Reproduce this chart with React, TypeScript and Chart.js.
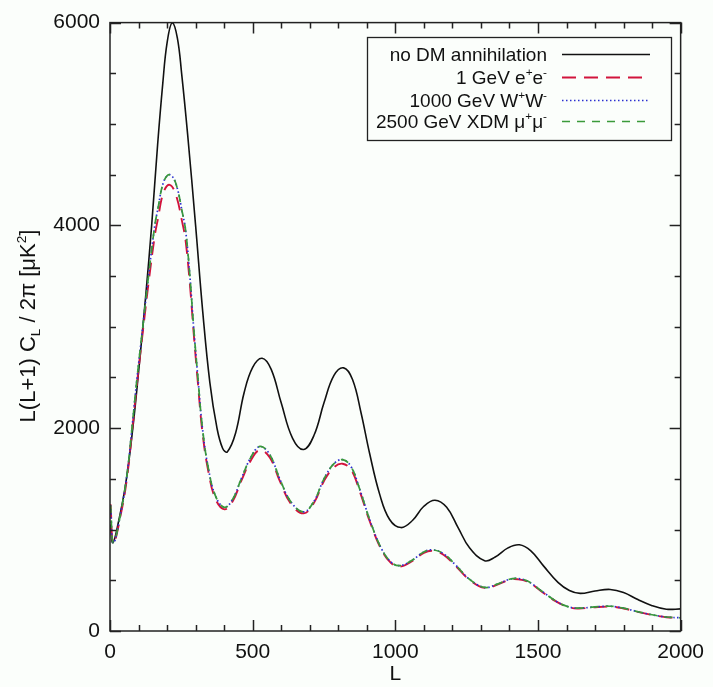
import React, { useEffect, useRef } from "react";
import { Chart, registerables } from "chart.js";

Chart.register(...registerables);

// ---- data ----
const L_NODM = [2, 10, 30, 55, 80, 100, 125, 146, 167, 185, 200, 218, 236, 251, 272, 300, 325, 350, 375, 395, 411, 440, 470, 500, 533, 565, 600, 640, 679, 715, 750, 785, 819, 850, 880, 910, 945, 980, 1020, 1060, 1100, 1139, 1180, 1220, 1260, 1313, 1350, 1395, 1435, 1475, 1520, 1570, 1610, 1648, 1700, 1753, 1800, 1850, 1900, 1950, 2000];
const V_NODM = [1050, 870, 1080, 1450, 2000, 2550, 3300, 4000, 4800, 5400, 5800, 6000, 5850, 5500, 4900, 4000, 3150, 2450, 2000, 1800, 1766, 1950, 2350, 2600, 2690, 2580, 2250, 1900, 1790, 1930, 2250, 2520, 2595, 2480, 2150, 1750, 1350, 1100, 1020, 1090, 1230, 1290, 1220, 1020, 820, 693, 730, 820, 850, 790, 640, 480, 400, 371, 395, 410, 380, 310, 250, 215, 218];

const L_DM = [2, 12, 40, 60, 77, 95, 115, 135, 157, 167, 188, 209, 230, 254, 265, 280, 293, 308, 324, 345, 370, 401, 430, 460, 495, 526, 560, 595, 635, 679, 715, 750, 785, 815, 845, 875, 910, 950, 985, 1017, 1060, 1100, 1132, 1170, 1215, 1260, 1313, 1360, 1400, 1429, 1465, 1510, 1560, 1600, 1638, 1690, 1753, 1800, 1850, 1900, 1950, 2000];
const V_EE = [1250, 870, 1180, 1520, 1960, 2450, 2950, 3430, 3900, 4050, 4330, 4400, 4310, 4020, 3850, 3420, 2950, 2450, 1960, 1570, 1300, 1200, 1280, 1480, 1690, 1785, 1710, 1480, 1250, 1160, 1265, 1480, 1615, 1650, 1590, 1380, 1085, 810, 670, 635, 690, 770, 790, 750, 630, 505, 425, 460, 505, 510, 485, 395, 297, 243, 222, 232, 240, 222, 188, 158, 136, 128];
const V_WW = [1240, 870, 1200, 1550, 2000, 2500, 3000, 3500, 4000, 4150, 4430, 4500, 4420, 4120, 3950, 3500, 3000, 2500, 2000, 1600, 1330, 1220, 1300, 1500, 1720, 1820, 1740, 1500, 1270, 1175, 1280, 1500, 1650, 1690, 1620, 1400, 1100, 820, 680, 645, 700, 780, 800, 760, 640, 510, 430, 465, 510, 517, 490, 400, 300, 245, 225, 235, 244, 225, 190, 160, 138, 130];
const V_MUMU = [1240, 870, 1200, 1550, 2000, 2500, 3000, 3500, 4000, 4150, 4430, 4500, 4420, 4120, 3950, 3500, 3000, 2500, 2000, 1600, 1330, 1220, 1300, 1500, 1720, 1820, 1740, 1500, 1270, 1175, 1280, 1500, 1650, 1690, 1620, 1400, 1100, 820, 680, 645, 700, 780, 800, 760, 640, 510, 430, 465, 510, 517, 490, 400, 300, 245, 225, 235, 244, 225, 190, 160, 138, 130];

const X_MIN = 0;
const X_MAX = 2000;
const X_MAJOR = 500;
const X_MINOR = 100;
const Y_MIN = 0;
const Y_MAX = 6000;
const Y_MAJOR = 2000;
const Y_MINOR = 500;

type Seg = { t: string; s?: "sup" | "sub" };

const LEGEND_ITEMS: { segs: Seg[]; color: string; dash: number[]; width: number }[] = [
  { segs: [{ t: "no DM annihilation" }], color: "#111111", dash: [], width: 1.6 },
  { segs: [{ t: "1 GeV e" }, { t: "+", s: "sup" }, { t: "e" }, { t: "-", s: "sup" }], color: "#d2143c", dash: [14, 8], width: 1.8 },
  { segs: [{ t: "1000 GeV W" }, { t: "+", s: "sup" }, { t: "W" }, { t: "-", s: "sup" }], color: "#2b2fd0", dash: [1.5, 2.5], width: 1.6 },
  { segs: [{ t: "2500 GeV XDM \u03bc" }, { t: "+", s: "sup" }, { t: "\u03bc" }, { t: "-", s: "sup" }], color: "#3a9a3a", dash: [8, 7], width: 1.6 },
];

const FONT_FAMILY = "'Liberation Sans', Arial, Helvetica, sans-serif";

function richWidth(ctx: CanvasRenderingContext2D, segs: Seg[], size: number) {
  let w = 0;
  for (const sg of segs) {
    ctx.font = `${sg.s ? size * 0.62 : size}px ${FONT_FAMILY}`;
    w += ctx.measureText(sg.t).width;
  }
  return w;
}

function drawRich(ctx: CanvasRenderingContext2D, segs: Seg[], x: number, y: number, size: number) {
  let cx = x;
  ctx.textAlign = "left";
  ctx.textBaseline = "alphabetic";
  for (const sg of segs) {
    const fs = sg.s ? size * 0.62 : size;
    ctx.font = `${fs}px ${FONT_FAMILY}`;
    let dy = 0;
    if (sg.s === "sup") dy = -size * 0.42;
    if (sg.s === "sub") dy = size * 0.22;
    ctx.fillText(sg.t, cx, y + dy);
    cx += ctx.measureText(sg.t).width;
  }
}

const decorPlugin = {
  id: "decor",
  beforeDraw(chart: any) {
    const ctx = chart.ctx as CanvasRenderingContext2D;
    ctx.save();
    ctx.fillStyle = "#fbfefb";
    ctx.fillRect(0, 0, chart.width, chart.height);
    ctx.restore();
  },
  afterDraw(chart: any) {
    const ctx = chart.ctx as CanvasRenderingContext2D;
    const a = chart.chartArea;
    const xs = chart.scales.x;
    const ys = chart.scales.y;
    ctx.save();
    ctx.strokeStyle = "#222222";
    ctx.lineWidth = 1.5;
    ctx.setLineDash([]);
    ctx.strokeRect(a.left, a.top, a.right - a.left, a.bottom - a.top);

    ctx.beginPath();
    for (let v = X_MIN; v <= X_MAX + 1e-6; v += X_MINOR) {
      const major = Math.abs(v / X_MAJOR - Math.round(v / X_MAJOR)) < 1e-6;
      const len = major ? 11 : 6;
      const px = Math.round(xs.getPixelForValue(v)) + 0.5;
      ctx.moveTo(px, a.bottom);
      ctx.lineTo(px, a.bottom - len);
      ctx.moveTo(px, a.top);
      ctx.lineTo(px, a.top + len);
    }
    for (let v = Y_MIN; v <= Y_MAX + 1e-6; v += Y_MINOR) {
      const major = Math.abs(v / Y_MAJOR - Math.round(v / Y_MAJOR)) < 1e-6;
      const len = major ? 11 : 6;
      const py = Math.round(ys.getPixelForValue(v)) + 0.5;
      ctx.moveTo(a.left, py);
      ctx.lineTo(a.left + len, py);
      ctx.moveTo(a.right, py);
      ctx.lineTo(a.right - len, py);
    }
    ctx.stroke();

    // x title
    ctx.fillStyle = "#111111";
    ctx.font = `21px ${FONT_FAMILY}`;
    ctx.textAlign = "center";
    ctx.textBaseline = "alphabetic";
    ctx.fillText("L", (a.left + a.right) / 2, 680);

    // y title (rotated)
    const ySegs: Seg[] = [
      { t: "L(L+1) C" },
      { t: "L", s: "sub" },
      { t: " / 2\u03c0 [\u03bcK" },
      { t: "2", s: "sup" },
      { t: "]" },
    ];
    const ySize = 22;
    ctx.save();
    ctx.translate(35, 326);
    ctx.rotate(-Math.PI / 2);
    const yw = richWidth(ctx, ySegs, ySize);
    ctx.fillStyle = "#111111";
    drawRich(ctx, ySegs, -yw / 2, 0, ySize);
    ctx.restore();

    // legend box
    ctx.strokeStyle = "#222222";
    ctx.lineWidth = 1.3;
    ctx.strokeRect(367.5, 37.5, 304, 103);
    const rowY = [54, 77, 100, 121];
    const lSize = 19;
    LEGEND_ITEMS.forEach((it, i) => {
      const w = richWidth(ctx, it.segs, lSize);
      ctx.fillStyle = "#111111";
      drawRich(ctx, it.segs, 547 - w, rowY[i] + 6.5, lSize);
      ctx.beginPath();
      ctx.strokeStyle = it.color;
      ctx.lineWidth = it.width;
      ctx.setLineDash(it.dash);
      ctx.moveTo(562, rowY[i] + 0.5);
      ctx.lineTo(650, rowY[i] + 0.5);
      ctx.stroke();
      ctx.setLineDash([]);
    });
    ctx.restore();
  },
};

function pts(xs: number[], ys: number[]) {
  return xs.map((x, i) => ({ x, y: ys[i] }));
}

const SMOOTH = 0.4;

export default function App() {
  const ref = useRef<HTMLCanvasElement | null>(null);

  useEffect(() => {
    document.body.style.margin = "0";
    const canvas = ref.current;
    if (!canvas) return;
    const chart = new Chart(canvas, {
      type: "line",
      data: {
        datasets: [
          {
            label: "2500 GeV XDM",
            data: pts(L_DM, V_MUMU),
            borderColor: "#3a9a3a",
            borderWidth: 1.7,
            borderDash: [8, 7],
            pointRadius: 0,
            tension: SMOOTH,
            order: 0,
          },
          {
            label: "1000 GeV WW",
            data: pts(L_DM, V_WW),
            borderColor: "#2b2fd0",
            borderWidth: 1.7,
            borderDash: [1.5, 2.5],
            pointRadius: 0,
            tension: SMOOTH,
            order: 1,
          },
          {
            label: "1 GeV ee",
            data: pts(L_DM, V_EE),
            borderColor: "#d2143c",
            borderWidth: 1.9,
            borderDash: [14, 8],
            pointRadius: 0,
            tension: SMOOTH,
            order: 2,
          },
          {
            label: "no DM annihilation",
            data: pts(L_NODM, V_NODM),
            borderColor: "#111111",
            borderWidth: 1.6,
            pointRadius: 0,
            tension: SMOOTH,
            order: 3,
          },
        ],
      },
      options: {
        animation: false,
        responsive: false,
        devicePixelRatio: 1,
        layout: { padding: { left: 0, top: 16, right: 29, bottom: 0 } },
        plugins: {
          legend: { display: false },
          tooltip: { enabled: false },
          title: { display: false },
        },
        scales: {
          x: {
            type: "linear",
            min: X_MIN,
            max: X_MAX,
            grid: { display: false, drawTicks: false },
            border: { display: false },
            ticks: {
              stepSize: X_MAJOR,
              maxRotation: 0,
              padding: 9,
              color: "#111111",
              font: { size: 21, family: FONT_FAMILY },
              callback: (v: any) => String(v),
            },
            afterFit: (s: any) => {
              s.height = 56;
            },
          },
          y: {
            type: "linear",
            min: Y_MIN,
            max: Y_MAX,
            grid: { display: false, drawTicks: false },
            border: { display: false },
            ticks: {
              stepSize: Y_MAJOR,
              padding: 10,
              color: "#111111",
              font: { size: 21, family: FONT_FAMILY },
              callback: (v: any) => String(v),
            },
            afterFit: (s: any) => {
              s.width = 110;
            },
          },
        },
      },
      plugins: [decorPlugin],
    } as any);
    return () => chart.destroy();
  }, []);

  return (
    <div style={{ width: 713, height: 687 }}>
      <canvas ref={ref} width={713} height={687} style={{ display: "block", width: 713, height: 687 }} />
    </div>
  );
}
